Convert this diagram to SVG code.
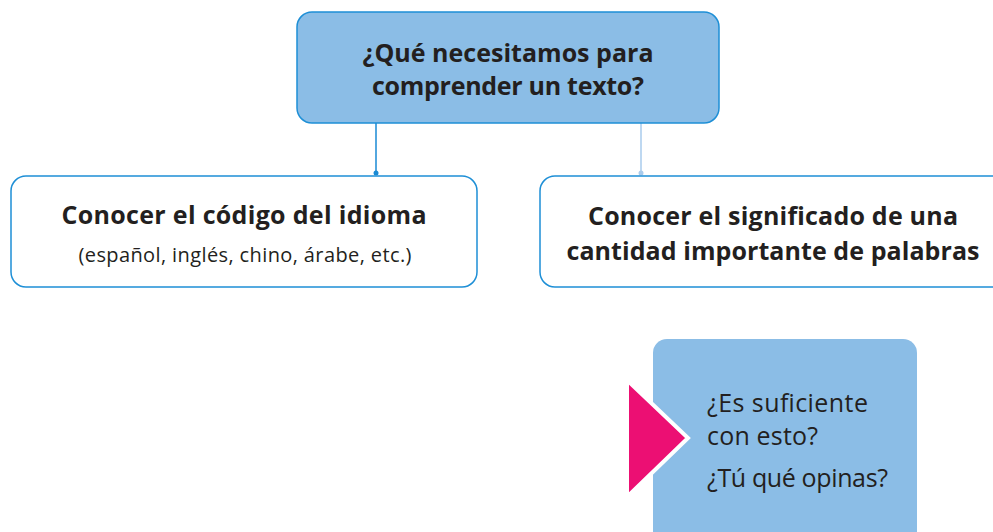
<svg xmlns="http://www.w3.org/2000/svg" width="993" height="532" viewBox="0 0 993 532">
<style>
.t{font-family:"Open Sans","Noto Sans","DejaVu Sans",sans-serif;fill:#231f20}
.b{font-weight:700;font-size:25px}
.r{font-weight:400}
.box{fill:#fff;stroke:#1e8fd6;stroke-width:1.5}
</style>
<rect width="993" height="532" fill="#fff"/>
<g id="connectors">
<line x1="376" y1="123" x2="376" y2="173" stroke="#1a8ad4" stroke-width="1.5"/>
<circle cx="376" cy="173" r="2.5" fill="#1a8ad4"/>
<line x1="641" y1="123" x2="641" y2="173" stroke="#a9cbec" stroke-width="1.5"/>
<circle cx="641" cy="173" r="2.5" fill="#a9cbec"/>
</g>
<g id="top">
<rect x="297" y="12" width="422" height="111" rx="15" fill="#8bbde6" stroke="#1e8fd6" stroke-width="1.5"/>
<text class="t b" x="508" y="62" text-anchor="middle" font-size="25" textLength="291">¿Qué necesitamos para</text>
<text class="t b" x="508" y="95" text-anchor="middle" font-size="25" textLength="272">comprender un texto?</text>
</g>
<g id="left">
<rect class="box" x="11" y="176" width="466" height="111" rx="15"/>
<text class="t b" x="244" y="224" text-anchor="middle" textLength="365">Conocer el código del idioma</text>
<text class="t r" x="245" y="262" text-anchor="middle" font-size="20" textLength="333">(español, inglés, chino, árabe, etc.)</text>
</g>
<g id="right">
<rect class="box" x="540" y="176" width="470" height="111" rx="15"/>
<text class="t b" x="773" y="225" text-anchor="middle" textLength="370">Conocer el significado de una</text>
<text class="t b" x="773" y="260" text-anchor="middle" textLength="413">cantidad importante de palabras</text>
</g>
<g id="question">
<rect x="653" y="339" width="264" height="210" rx="14" fill="#8bbde6"/>
<polygon points="627,380 688,438 627,497" fill="#ec0f73" stroke="#fff" stroke-width="4" stroke-linejoin="miter"/>
<text class="t r" font-size="25" x="707" y="412" textLength="161">¿Es suficiente</text>
<text class="t r" font-size="25" x="707" y="445" textLength="111">con esto?</text>
<text class="t r" font-size="25" x="707" y="487" textLength="181">¿Tú qué opinas?</text>
</g>
</svg>
